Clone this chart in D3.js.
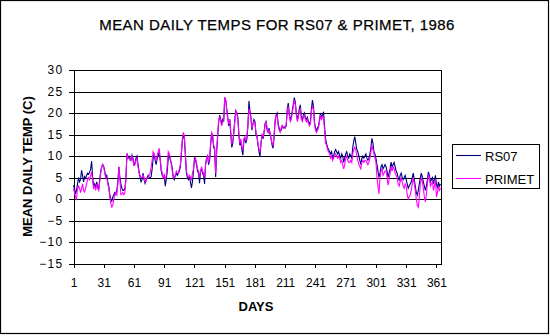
<!DOCTYPE html>
<html><head><meta charset="utf-8">
<script src="https://cdn.jsdelivr.net/npm/d3@7"></script>
<style>
html,body{margin:0;padding:0;background:#fff;}
svg{display:block;font-family:Arial,"Liberation Sans",sans-serif;}
</style></head>
<body><svg id="c" width="550" height="336"></svg>
<script>
const title = "MEAN DAILY TEMPS FOR RS07 & PRIMET, 1986";
const xTitle = "DAYS";
const yTitle = "MEAN DAILY TEMP (C)";
const seriesNames = ["RS07", "PRIMET"];
const xTickValues = [1,31,61,91,121,151,181,211,241,271,301,331,361];
const yTickValues = [-15,-10,-5,0,5,10,15,20,25,30];

const rs07 = [
3.2,2.5,1.2,2.0,3.5,5.0,4.0,4.5,6.7,5.5,
4.0,5.2,4.8,5.5,6.0,5.8,6.2,7.0,8.8,5.0,
3.0,3.5,2.5,4.0,3.0,2.2,4.5,6.5,7.5,8.0,
7.5,6.5,5.0,5.5,4.0,3.0,1.0,0.0,-0.5,0.5,
1.0,1.5,1.0,2.0,4.0,7.5,5.0,3.5,2.5,2.0,
2.0,2.5,5.0,10.6,9.5,10.0,9.5,9.0,10.2,9.5,
7.8,8.5,9.5,10.0,8.0,6.5,5.0,4.0,4.5,6.0,
4.5,3.6,4.2,5.0,5.5,5.0,4.8,5.2,7.0,9.5,
10.5,9.0,8.0,9.5,10.0,11.0,9.0,6.5,5.5,5.0,
5.5,3.0,4.5,6.5,9.5,10.5,9.0,8.5,7.0,5.0,
4.5,5.5,6.0,5.5,6.0,6.5,7.5,10.5,13.5,15.0,
14.0,10.0,6.0,5.0,4.5,5.0,4.0,2.6,4.0,6.5,
9.5,9.0,8.0,6.5,6.0,3.7,6.5,7.0,6.0,5.5,
3.5,8.0,9.5,10.0,8.0,9.0,12.5,15.0,14.5,12.0,
11.5,5.1,11.0,14.5,18.0,19.5,18.5,17.5,18.5,18.0,
23.6,23.0,21.0,19.0,17.0,18.5,15.0,12.0,13.0,15.5,
18.5,20.5,20.0,19.0,15.0,12.5,13.5,11.5,10.2,13.5,
14.0,13.0,14.0,17.0,22.8,20.5,19.0,16.0,17.5,18.5,
18.0,15.0,14.5,12.5,11.0,9.8,13.0,15.0,14.0,15.5,
17.5,18.0,16.0,15.5,16.5,15.0,14.0,12.5,11.8,14.5,
18.0,19.5,20.0,17.5,16.5,15.8,16.0,17.0,16.5,16.8,
16.5,17.0,21.0,22.3,20.0,18.5,19.0,20.5,22.0,23.6,
22.5,20.0,18.5,19.5,21.0,21.9,19.0,18.5,19.5,20.0,
19.0,18.5,19.0,18.0,17.5,18.0,21.0,23.0,21.5,18.0,
16.5,16.0,16.5,17.0,18.5,20.0,19.0,19.5,20.3,17.0,
14.0,12.9,12.0,11.5,11.0,10.5,11.0,9.5,10.0,11.0,
11.5,11.0,10.5,11.0,10.0,9.5,10.5,10.0,8.5,9.5,
10.5,11.0,10.0,9.5,10.5,10.0,9.5,12.0,13.5,14.5,
13.0,11.5,11.0,10.0,9.0,8.0,9.5,10.0,9.5,10.0,
10.5,9.5,9.0,9.5,10.5,12.0,14.1,13.0,11.0,10.5,
9.4,8.0,6.5,5.0,6.0,7.5,8.0,7.0,7.5,8.0,
7.5,6.5,5.0,6.0,7.0,8.6,7.5,8.0,8.5,7.5,
6.5,6.0,5.0,4.4,5.5,6.0,5.0,4.5,5.0,5.5,
4.5,3.5,2.5,3.0,3.5,4.0,5.0,6.0,4.5,3.0,
1.5,0.9,2.0,3.5,5.0,6.0,5.0,4.0,3.0,2.0,
3.0,4.5,6.3,5.5,4.0,4.5,5.0,3.5,4.5,5.5,
3.5,2.5,4.0,3.0,3.5];

const primet = [
2.5,1.5,0.5,0.0,2.5,3.0,2.5,1.5,2.4,3.5,
2.0,1.6,2.5,3.5,4.5,5.0,4.5,5.5,6.3,4.0,
2.5,3.0,2.0,3.5,2.5,2.0,4.0,6.0,7.5,8.0,
7.5,6.0,5.0,5.0,3.5,2.5,0.5,-1.0,-1.9,-1.5,
0.0,1.0,1.5,1.0,3.5,7.5,4.5,1.0,1.2,1.5,
1.0,1.5,4.5,10.6,9.5,9.5,9.0,9.5,10.0,9.0,
7.8,8.0,9.0,9.5,7.5,6.0,5.5,5.0,5.0,5.5,
5.0,4.0,4.5,5.0,5.0,5.5,6.0,7.5,9.0,11.0,
10.5,9.5,9.0,10.0,11.0,11.8,9.5,7.0,6.0,5.0,
5.5,4.5,5.5,8.0,11.0,10.5,9.5,8.0,6.5,5.0,
5.0,5.5,6.5,6.0,6.0,7.0,8.0,11.0,14.0,15.5,
14.5,10.5,6.5,5.5,5.0,5.5,5.0,4.5,6.0,7.0,
9.0,9.5,8.5,7.0,6.5,5.0,6.5,7.5,6.5,6.0,
5.0,8.0,9.5,10.0,8.5,9.5,13.0,15.5,15.0,12.5,
12.0,6.0,11.5,15.0,18.5,19.0,18.0,17.0,18.0,18.5,
23.6,23.0,20.5,18.5,17.5,18.5,15.5,13.0,13.5,15.5,
18.0,20.5,20.0,18.5,15.5,13.0,14.0,12.0,11.5,14.0,
14.5,13.5,14.5,17.5,21.0,20.0,18.5,16.5,17.5,18.0,
17.5,15.5,14.5,13.0,11.5,11.0,13.0,15.0,14.5,15.5,
17.0,18.0,16.5,15.5,16.0,15.5,14.0,13.0,12.5,15.0,
18.5,19.5,19.5,17.0,16.0,15.5,16.5,17.0,16.5,16.5,
16.5,17.5,20.5,21.5,19.5,18.0,18.5,20.0,21.5,23.0,
22.0,19.5,18.0,19.0,20.5,21.0,18.5,18.0,19.0,19.5,
18.5,18.0,18.5,17.5,17.0,17.5,20.5,21.5,21.0,17.5,
16.0,15.5,16.0,16.5,18.0,19.5,18.5,19.0,19.0,16.0,
13.0,12.5,11.5,11.0,10.5,9.5,10.0,9.0,9.5,10.0,
10.5,10.0,9.5,10.0,9.5,8.5,9.0,8.0,7.0,8.0,
9.5,10.0,9.0,8.5,8.5,9.0,8.5,10.5,11.5,12.0,
11.5,10.0,9.0,8.0,7.5,7.0,8.5,9.0,8.5,9.0,
9.0,8.5,8.0,8.5,9.5,11.0,12.5,11.5,10.5,9.5,
8.5,5.0,3.0,1.2,5.0,6.5,7.0,5.5,6.0,6.5,
6.5,5.0,3.2,4.5,6.0,7.5,6.5,7.5,7.0,6.0,
5.5,5.0,3.5,3.0,4.0,5.0,4.0,3.0,2.5,3.5,
3.0,1.0,0.0,0.5,1.0,2.0,3.5,5.0,3.5,2.0,
0.0,-1.5,-1.9,0.5,3.5,5.0,4.0,2.5,0.5,-0.7,
1.0,3.5,5.5,5.0,3.0,3.5,4.0,2.0,3.0,4.5,
0.5,1.5,3.0,2.0,2.5];

const colors = ["#000080", "#FF00FF"];
const data = [rs07, primet];

const svg = d3.select("#c");
const L = 73.5, R = 441.5, T = 70, B = 263.5;

// chart border
svg.append("rect").attr("x",0.5).attr("y",0.5).attr("width",548).attr("height",333)
  .attr("fill","#fff").attr("stroke","#000").attr("stroke-width",1.2);

const x = d3.scaleLinear().domain([1, 366]).range([L, R]);
const y = d3.scaleLinear().domain([-15, 30]).range([B, T]);

// gridlines
svg.append("g").selectAll("line").data(yTickValues.filter(v => v > -15))
  .join("line").attr("x1", L).attr("x2", R)
  .attr("y1", d => Math.round(y(d)) + 0.5).attr("y2", d => Math.round(y(d)) + 0.5)
  .attr("stroke", "#000").attr("stroke-width", 1).attr("shape-rendering","crispEdges");
// right border of plot
svg.append("line").attr("x1", R).attr("x2", R).attr("y1", T).attr("y2", B)
  .attr("stroke","#000").attr("shape-rendering","crispEdges");

// y axis
const yAxis = svg.append("g").attr("transform", `translate(${L},0)`)
  .call(d3.axisLeft(y).tickValues(yTickValues).tickSize(5).tickSizeOuter(0).tickPadding(6));
yAxis.select(".domain").attr("stroke","#000").attr("shape-rendering","crispEdges");
yAxis.selectAll(".tick line").attr("stroke","#000").attr("shape-rendering","crispEdges");
yAxis.selectAll("text").attr("font-size", 12).attr("font-family","Arial,'Liberation Sans',sans-serif")
  .attr("fill","#000").attr("letter-spacing", "1.3px").attr("dx", "1px");

// x axis
const xAxis = svg.append("g").attr("transform", `translate(0,${B})`)
  .call(d3.axisBottom(x).tickValues(xTickValues).tickFormat(d3.format("d")).tickSize(4).tickSizeOuter(0).tickPadding(11));
xAxis.select(".domain").attr("stroke","#000").attr("shape-rendering","crispEdges");
xAxis.selectAll(".tick line").attr("stroke","#000").attr("shape-rendering","crispEdges");
xAxis.selectAll("text").attr("font-size", 12).attr("font-family","Arial,'Liberation Sans',sans-serif").attr("fill","#000");

// series
const line = d3.line().x((d, i) => x(i + 1)).y(d => y(d));
data.forEach((s, k) => {
  svg.append("path").datum(s).attr("d", line).attr("fill","none")
    .attr("stroke", colors[k]).attr("stroke-width", 1.1).attr("stroke-linejoin","miter");
});

// titles
svg.append("text").attr("x", 277).attr("y", 29.5).attr("text-anchor","middle")
  .attr("font-size", 15).attr("letter-spacing","0.45px")
  .attr("stroke","#000").attr("stroke-width",0.25).text(title);
svg.append("text").attr("x", 256).attr("y", 311).attr("text-anchor","middle")
  .attr("font-size", 13).attr("font-weight","bold").text(xTitle);
svg.append("text").attr("transform","translate(31.5,166.5) rotate(-90)").attr("text-anchor","middle")
  .attr("font-size", 13).attr("font-weight","bold").text(yTitle);

// legend
const lg = svg.append("g");
lg.append("rect").attr("x",452.5).attr("y",144.5).attr("width",87).attr("height",44)
  .attr("fill","#fff").attr("stroke","#000").attr("shape-rendering","crispEdges");
const legY = [155.5, 178.5];
seriesNames.forEach((n, k) => {
  lg.append("line").attr("x1",456).attr("x2",481).attr("y1",legY[k]).attr("y2",legY[k])
    .attr("stroke",colors[k]).attr("stroke-width",1.1);
  lg.append("text").attr("x",485).attr("y",legY[k]+5).attr("font-size",13).text(n);
});
</script>
</body></html>
